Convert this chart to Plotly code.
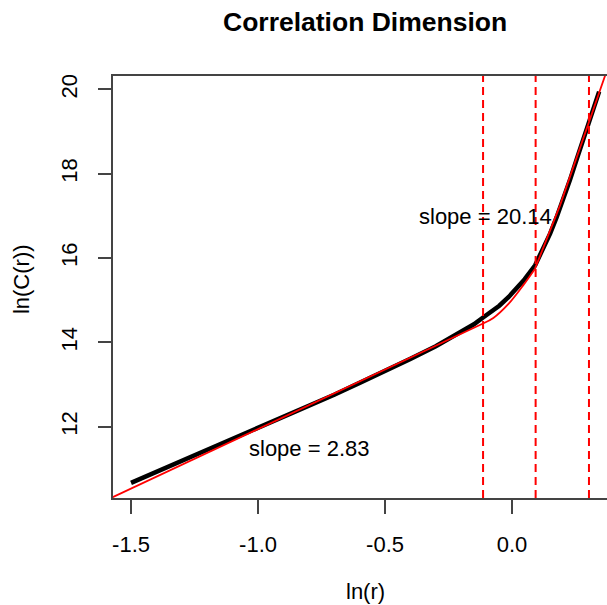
import plotly.graph_objects as go

# ---- data ----
ln_r = [-1.50, -1.40, -1.30, -1.20, -1.10, -1.00, -0.90, -0.80, -0.70, -0.60,
        -0.50, -0.40, -0.30, -0.20, -0.15, -0.114, -0.08, -0.05, -0.013, 0.02,
        0.05, 0.091, 0.12, 0.15, 0.175, 0.20, 0.228, 0.255, 0.28, 0.30, 0.32, 0.343]
ln_C = [10.67, 10.93, 11.19, 11.44, 11.70, 11.96, 12.22, 12.49, 12.76, 13.04,
        13.32, 13.61, 13.91, 14.24, 14.43, 14.59, 14.74, 14.87, 15.08, 15.30,
        15.50, 15.83, 16.18, 16.58, 16.96, 17.35, 17.85, 18.35, 18.82, 19.20, 19.58, 19.95]

# fitted red line, in three pieces
fit_left_x = [-1.60, -0.114]
fit_left_y = [10.25, 14.45]
fit_mid_x = [-0.114, -0.0735, -0.013, 0.0445, 0.0906]
fit_mid_y = [14.45, 14.58, 14.92, 15.36, 15.75]
fit_right_x = [0.0906, 0.189, 0.366, 0.40]
fit_right_y = [15.75, 17.25, 20.32, 20.90]

cut_points = [-0.114, 0.093, 0.303]

slope_labels = ["slope = 2.83", "slope = 20.14"]
slope_label_x = [-0.80, -0.106]
slope_label_y = [11.49, 16.98]

x_tickvals = [-1.5, -1.0, -0.5, 0.0]
x_ticktext = ["-1.5", "-1.0", "-0.5", "0.0"]
y_tickvals = [12, 14, 16, 18, 20]
y_ticktext = ["12", "14", "16", "18", "20"]

FONT = "Liberation Sans, Arial, Helvetica, sans-serif"
AXC = "#444444"
RED = "#FF0000"

fig = go.Figure()

fig.add_trace(go.Scatter(
    x=ln_r, y=ln_C, mode="lines",
    line=dict(color="black", width=4.5),
    hoverinfo="skip", showlegend=False))

fig.add_trace(go.Scatter(x=fit_left_x, y=fit_left_y, mode="lines",
                         line=dict(color=RED, width=1.8),
                         hoverinfo="skip", showlegend=False))
fig.add_trace(go.Scatter(x=fit_mid_x, y=fit_mid_y, mode="lines",
                         line=dict(color=RED, width=1.8, shape="spline", smoothing=1.0),
                         hoverinfo="skip", showlegend=False))
fig.add_trace(go.Scatter(x=fit_right_x, y=fit_right_y, mode="lines",
                         line=dict(color=RED, width=1.8),
                         hoverinfo="skip", showlegend=False))

for cx in cut_points:
    fig.add_shape(type="line", xref="x", yref="paper", x0=cx, x1=cx, y0=0, y1=1,
                  line=dict(color=RED, width=2, dash="8px,5px"))

for t, lx, ly in zip(slope_labels, slope_label_x, slope_label_y):
    fig.add_annotation(x=lx, y=ly, xref="x", yref="y", text=t, showarrow=False,
                       font=dict(family=FONT, size=22, color="black"),
                       xanchor="center", yanchor="middle")

# axis titles & main title as annotations (plot box is cropped on the right)
fig.add_annotation(x=0.511, y=-0.2205, xref="paper", yref="paper", text="ln(r)",
                   showarrow=False, font=dict(family=FONT, size=22, color="black"),
                   xanchor="center", yanchor="middle")
fig.add_annotation(x=-0.184, y=0.519, xref="paper", yref="paper", text="ln(C(r))",
                   textangle=-90, showarrow=False,
                   font=dict(family=FONT, size=22, color="black"),
                   xanchor="center", yanchor="middle")
fig.add_annotation(x=0.510, y=1.127, xref="paper", yref="paper",
                   text="<b>Correlation Dimension</b>", showarrow=False,
                   font=dict(family=FONT, size=26.5, color="black"),
                   xanchor="center", yanchor="middle")

fig.update_layout(
    width=607, height=605,
    margin=dict(l=113, r=0, t=76, b=107, pad=0),
    paper_bgcolor="white", plot_bgcolor="white",
    font=dict(family=FONT, size=22, color="black"),
    xaxis=dict(range=[-1.571, 0.374], showgrid=False, zeroline=False,
               showline=True, mirror=True, linecolor=AXC, linewidth=1.5,
               ticks="outside", ticklen=14, tickwidth=1.5, tickcolor=AXC,
               tickvals=x_tickvals, ticktext=x_ticktext,
               tickfont=dict(family=FONT, size=22, color="black"),
               ticklabelstandoff=12),
    yaxis=dict(range=[10.31, 20.32], showgrid=False, zeroline=False,
               showline=True, mirror=False, linecolor=AXC, linewidth=1.5,
               ticks="outside", ticklen=13, tickwidth=1.5, tickcolor=AXC,
               tickvals=y_tickvals, ticktext=y_ticktext, tickangle=-90,
               tickfont=dict(family=FONT, size=22, color="black"),
               ticklabelstandoff=12),
)

fig.write_html("out.html", config={"displayModeBar": False},
               post_script="document.body.style.margin='0';")
